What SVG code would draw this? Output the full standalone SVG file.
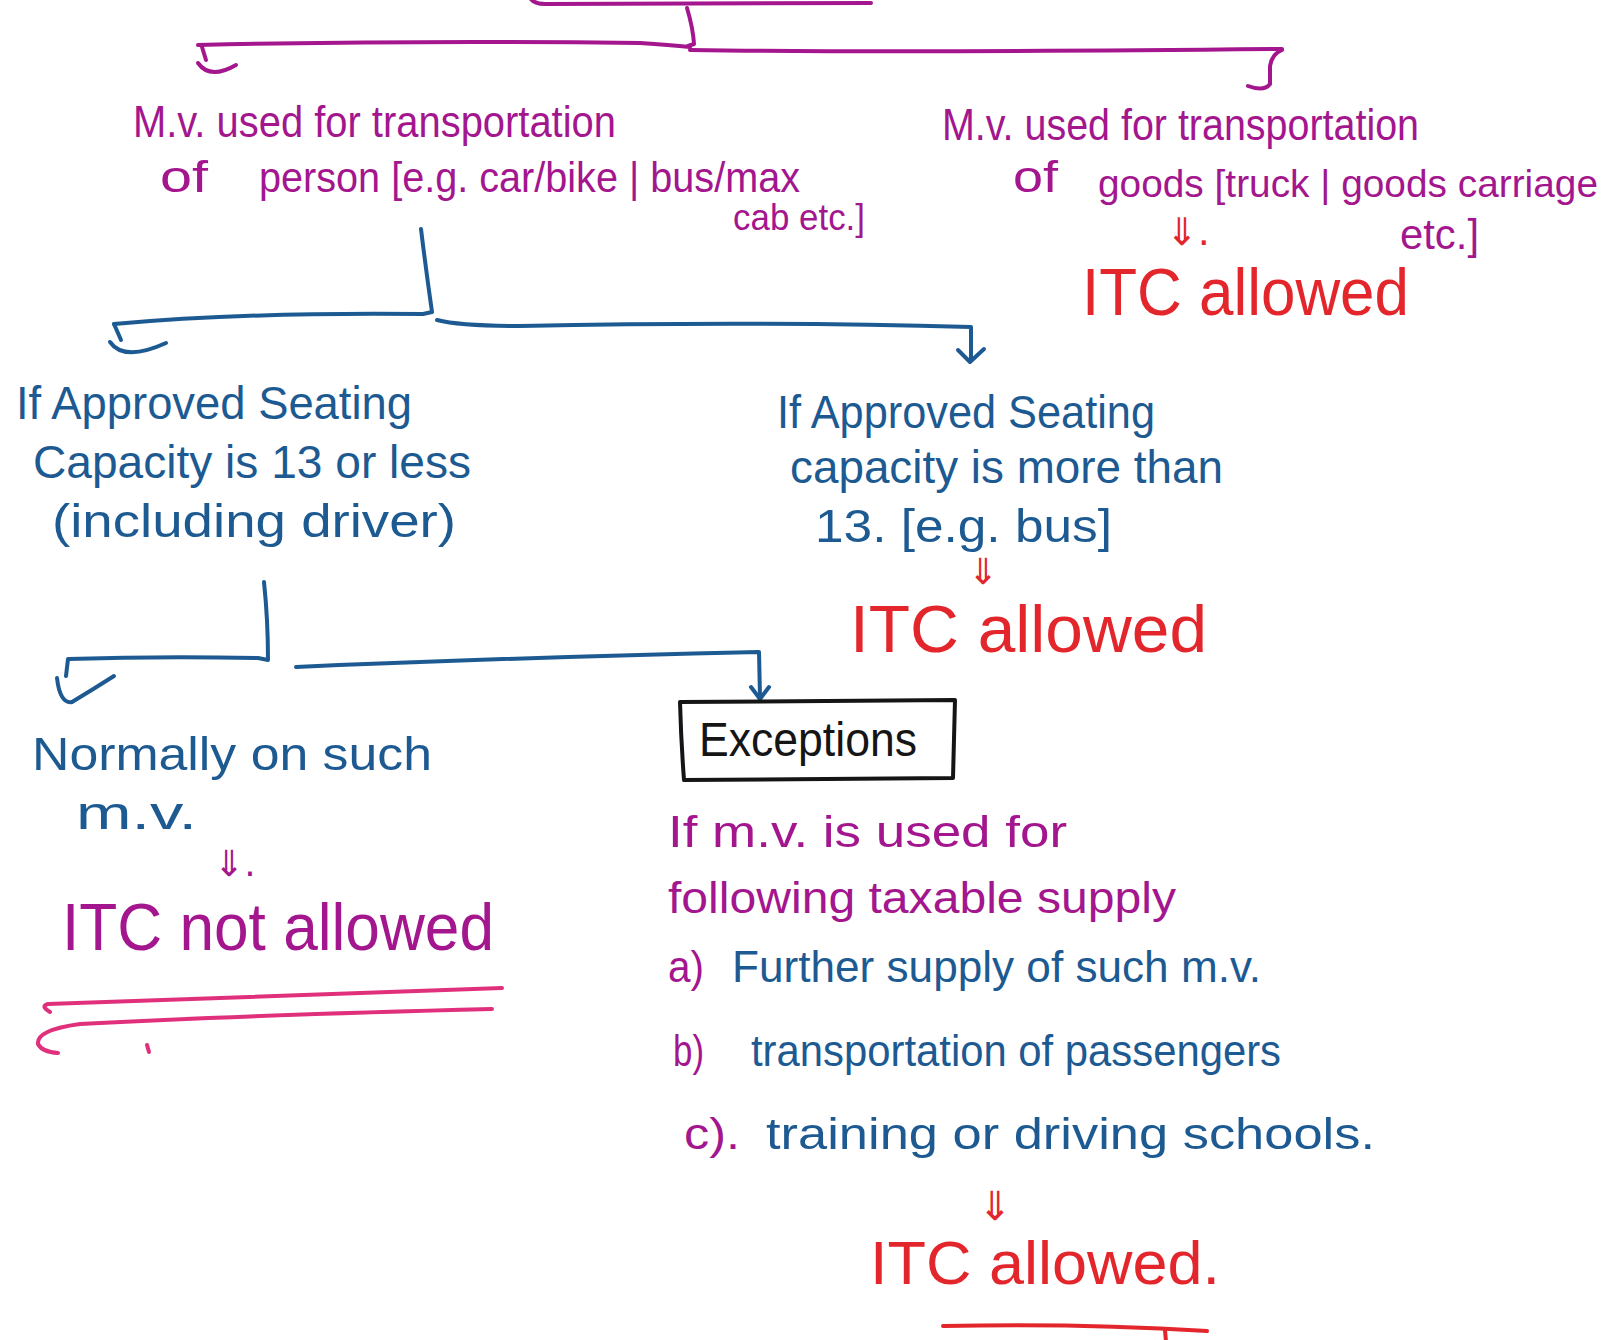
<svg xmlns="http://www.w3.org/2000/svg" width="1624" height="1340" viewBox="0 0 1624 1340">
  <style>
    .t { font-family: "Liberation Sans", "DejaVu Sans", sans-serif; }
    .ar { font-family: "DejaVu Sans", sans-serif; }
    .mag { fill: #a3168e; }
    .blu { fill: #1d5a92; }
    .red { fill: #e3262c; }
    .blk { fill: #151515; }
    .s { fill: none; stroke-linecap: round; stroke-linejoin: round; stroke-width: 4; }
    .sm { stroke: #a3168e; }
    .sb { stroke: #1d5a92; }
    .sr { stroke: #e3262c; }
    .sp { stroke: #e0307c; }
    .sk { stroke: #151515; }
  </style>
  <rect width="1624" height="1340" fill="#ffffff"/>

  <!-- connectors -->
  <g id="connectors">
    <!-- top magenta stroke (cut off at top edge) -->
    <path class="s sm" d="M 530 -2 Q 534 4 545 4 L 871 3"/>
    <!-- magenta split -->
    <path class="s sm" d="M 687 8 Q 693 28 694 44 L 688 46"/>
    <path class="s sm" d="M 198 45 Q 420 40 640 43 Q 670 45 690 47"/>
    <path class="s sm" d="M 690 50 Q 900 53 1282 49"/>
    <path class="s sm" d="M 202 47 L 206 60"/>
    <path class="s sm" d="M 198 63 Q 210 80 236 65"/>
    <path class="s sm" d="M 1282 50 Q 1272 54 1270 66 L 1270 84 Q 1264 92 1248 86"/>
    <!-- blue split under person branch -->
    <path class="s sb" d="M 421 229 Q 426 270 432 312 L 423 314 Q 250 312 114 324"/>
    <path class="s sb" d="M 114 324 L 121 340"/>
    <path class="s sb" d="M 110 342 Q 124 362 166 343"/>
    <path class="s sb" d="M 437 320 Q 460 326 520 326 Q 760 321 971 327 L 971 360"/>
    <path class="s sb" d="M 958 350 L 970 362 L 984 349"/>
    <!-- blue split under seating capacity branch -->
    <path class="s sb" d="M 264 582 Q 268 620 268 660 L 258 658 Q 160 656 68 659 L 66 676"/>
    <path class="s sb" d="M 57 678 Q 60 704 72 702 Q 92 690 114 676"/>
    <path class="s sb" d="M 296 667 Q 500 658 759 652 L 760 697"/>
    <path class="s sb" d="M 751 687 L 760 699 L 769 687"/>
    <!-- double underline -->
    <path class="s sp" d="M 50 1012 Q 40 1006 48 1004 Q 250 996 502 988" stroke-width="3.5"/>
    <path class="s sp" d="M 492 1009 Q 250 1015 80 1024 Q 36 1030 38 1044 Q 42 1052 58 1053" stroke-width="3.5"/>
    <path class="s sp" d="M 147 1045 L 149 1052" stroke-width="3"/>
    <!-- red underline at bottom -->
    <path class="s sr" d="M 943 1326 Q 1080 1323 1207 1331" stroke-width="3.5"/>
    <path class="s sr" d="M 1165 1330 L 1166 1342" stroke-width="3"/>
  </g>

  <!-- passenger vehicles -->
  <g id="node-person">
    <text class="t mag" x="133" y="137" font-size="44" textLength="483" lengthAdjust="spacingAndGlyphs">M.v. used for transportation</text>
    <text class="t mag" x="160" y="192" font-size="44" textLength="48" lengthAdjust="spacingAndGlyphs">of</text>
    <text class="t mag" x="259" y="192" font-size="42" textLength="541" lengthAdjust="spacingAndGlyphs">person [e.g. car/bike | bus/max</text>
    <text class="t mag" x="733" y="230" font-size="36" textLength="132" lengthAdjust="spacingAndGlyphs">cab etc.]</text>
  </g>

  <!-- goods vehicles -->
  <g id="node-goods">
    <text class="t mag" x="942" y="140" font-size="44" textLength="477" lengthAdjust="spacingAndGlyphs">M.v. used for transportation</text>
    <text class="t mag" x="1013" y="192" font-size="44" textLength="45" lengthAdjust="spacingAndGlyphs">of</text>
    <text class="t mag" x="1098" y="197" font-size="39" textLength="500" lengthAdjust="spacingAndGlyphs">goods [truck | goods carriage</text>
    <text class="t mag" x="1400" y="249" font-size="42" textLength="79" lengthAdjust="spacingAndGlyphs">etc.]</text>
  </g>
  <g id="node-goods-itc">
    <text class="ar red" x="1166" y="245" font-size="38">⇓.</text>
    <text class="t red" x="1082" y="315" font-size="66" textLength="327" lengthAdjust="spacingAndGlyphs">ITC allowed</text>
  </g>

  <!-- seating capacity 13 or less -->
  <g id="node-seating-le13">
    <text class="t blu" x="16" y="419" font-size="46" textLength="396" lengthAdjust="spacingAndGlyphs">If Approved Seating</text>
    <text class="t blu" x="33" y="478" font-size="46" textLength="438" lengthAdjust="spacingAndGlyphs">Capacity is 13 or less</text>
    <text class="t blu" x="52" y="537" font-size="46" textLength="404" lengthAdjust="spacingAndGlyphs">(including driver)</text>
  </g>

  <!-- seating capacity more than 13 -->
  <g id="node-seating-gt13">
    <text class="t blu" x="777" y="428" font-size="46" textLength="378" lengthAdjust="spacingAndGlyphs">If Approved Seating</text>
    <text class="t blu" x="790" y="483" font-size="46" textLength="433" lengthAdjust="spacingAndGlyphs">capacity is more than</text>
    <text class="t blu" x="815" y="542" font-size="46" textLength="297" lengthAdjust="spacingAndGlyphs">13. [e.g. bus]</text>
  </g>
  <g id="node-gt13-itc">
    <text class="ar red" x="968" y="584" font-size="36">⇓</text>
    <text class="t red" x="850" y="652" font-size="66" textLength="357" lengthAdjust="spacingAndGlyphs">ITC allowed</text>
  </g>

  <!-- normal case -->
  <g id="node-normally">
    <text class="t blu" x="32" y="770" font-size="46" textLength="400" lengthAdjust="spacingAndGlyphs">Normally on such</text>
    <text class="t blu" x="76" y="829" font-size="46" textLength="121" lengthAdjust="spacingAndGlyphs">m.v.</text>
  </g>
  <g id="node-not-allowed">
    <text class="ar mag" x="214" y="876" font-size="36">⇓.</text>
    <text class="t mag" x="62" y="950" font-size="66" textLength="432" lengthAdjust="spacingAndGlyphs">ITC not allowed</text>
  </g>

  <!-- exceptions box -->
  <g id="node-exceptions">
    <path class="s sk" d="M 680 702 L 955 700 L 953 778 L 684 780 Q 681 740 680 702" stroke-width="3.5"/>
    <text class="t blk" x="699" y="756" font-size="48" textLength="218" lengthAdjust="spacingAndGlyphs">Exceptions</text>
  </g>

  <!-- exception list -->
  <g id="node-exception-list">
    <text class="t mag" x="668" y="847" font-size="44" textLength="399" lengthAdjust="spacingAndGlyphs">If m.v. is used for</text>
    <text class="t mag" x="668" y="913" font-size="44" textLength="508" lengthAdjust="spacingAndGlyphs">following taxable supply</text>
    <text class="t mag" x="668" y="982" font-size="44" textLength="36" lengthAdjust="spacingAndGlyphs">a)</text>
    <text class="t blu" x="732" y="982" font-size="44" textLength="529" lengthAdjust="spacingAndGlyphs">Further supply of such m.v.</text>
    <text class="t mag" x="673" y="1066" font-size="44" textLength="31" lengthAdjust="spacingAndGlyphs">b)</text>
    <text class="t blu" x="751" y="1066" font-size="44" textLength="530" lengthAdjust="spacingAndGlyphs">transportation of passengers</text>
    <text class="t mag" x="684" y="1149" font-size="44" textLength="56" lengthAdjust="spacingAndGlyphs">c).</text>
    <text class="t blu" x="766" y="1149" font-size="44" textLength="609" lengthAdjust="spacingAndGlyphs">training or driving schools.</text>
  </g>
  <g id="node-exception-itc">
    <text class="ar red" x="978" y="1220" font-size="40">⇓</text>
    <text class="t red" x="870" y="1284" font-size="62" textLength="350" lengthAdjust="spacingAndGlyphs">ITC allowed.</text>
  </g>
</svg>
